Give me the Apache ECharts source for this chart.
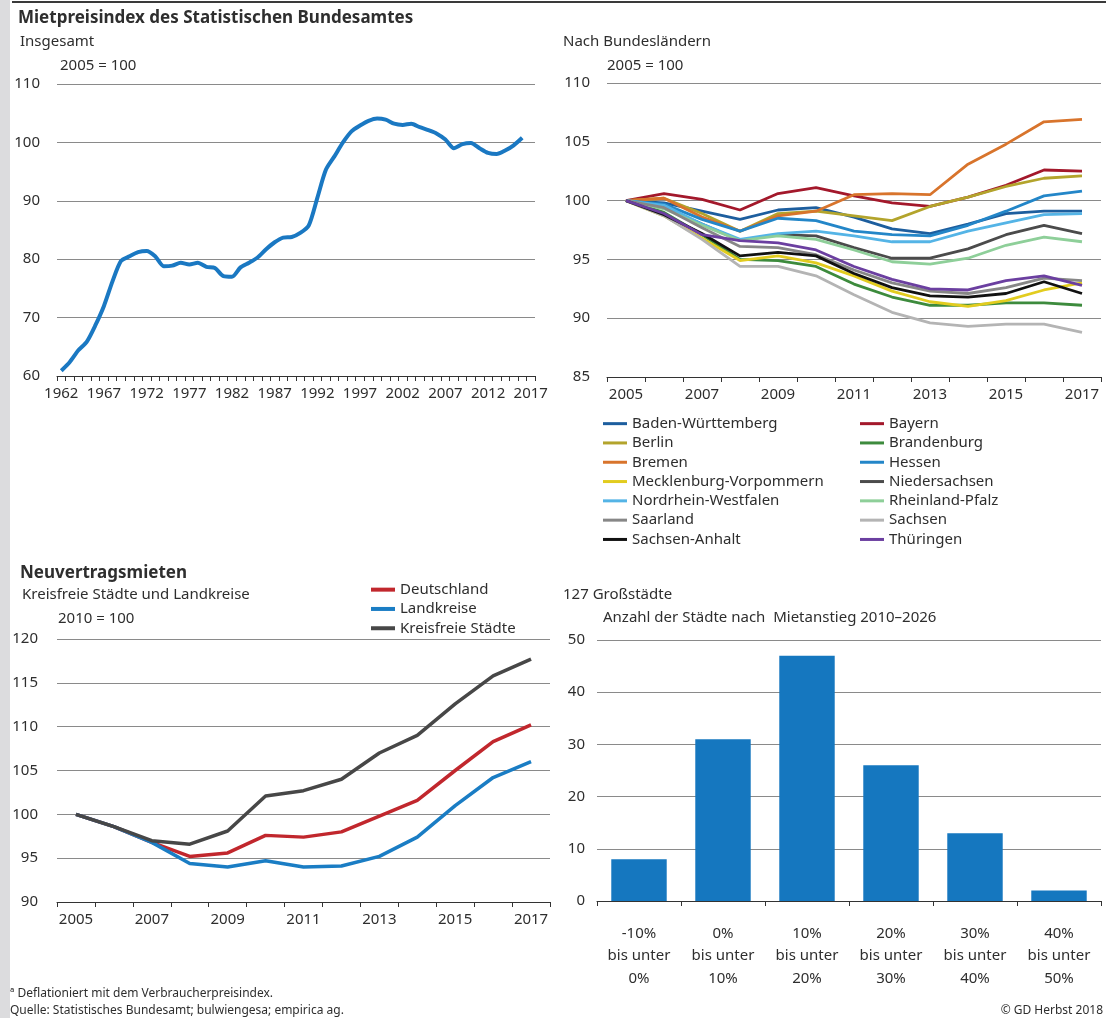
<!DOCTYPE html>
<html>
<head>
<meta charset="utf-8">
<script src="https://cdn.jsdelivr.net/npm/echarts@6/dist/echarts.min.js"></script>
<style>
  html, body { margin: 0; padding: 0; background: #fff; }
  #chart { width: 1106px; height: 1018px; }
</style>
</head>
<body>
<div id="chart"></div>
<script>
// ---- Mietpreisindex insgesamt, 2005 = 100 ----
const yearsLong = [];
for (let y = 1962; y <= 2017; y++) yearsLong.push(String(y));
const indexTotal = [
  60.9, 62.4, 64.4, 65.9, 68.7, 72.0, 76.2, 79.7, 80.5, 81.2,
  81.4, 80.5, 78.8, 78.9, 79.4, 79.1, 79.4, 78.7, 78.5, 77.1,
  77.0, 78.6, 79.4, 80.3, 81.7, 82.9, 83.7, 83.8, 84.5, 85.8,
  90.5, 95.3, 97.6, 100.0, 101.9, 102.9, 103.7, 104.1, 103.9, 103.2,
  103.0, 103.2, 102.6, 102.1, 101.5, 100.5, 99.0, 99.7, 99.9, 99.0,
  98.2, 98.0, 98.6, 99.5, 100.8, null
];

// ---- Nach Bundesländern, 2005 = 100 ----
const yearsShort = ['2005','2006','2007','2008','2009','2010','2011','2012','2013','2014','2015','2016','2017'];
const badenWuerttemberg = [100, 99.8, 99.1, 98.4, 99.2, 99.4, 98.6, 97.6, 97.2, 98.0, 98.9, 99.1, 99.1];
const bayern            = [100, 100.6, 100.1, 99.2, 100.6, 101.1, 100.4, 99.8, 99.5, 100.3, 101.3, 102.6, 102.5];
const berlin            = [100, 100.2, 98.9, 97.4, 98.9, 99.1, 98.7, 98.3, 99.5, 100.3, 101.2, 101.9, 102.1];
const brandenburg       = [100, 99.0, 97.1, 95.0, 94.9, 94.4, 92.9, 91.8, 91.1, 91.1, 91.3, 91.3, 91.1];
const bremen            = [100, 100.2, 98.6, 97.4, 98.7, 99.1, 100.5, 100.6, 100.5, 103.1, 104.8, 106.7, 106.9];
const hessen            = [100, 99.7, 98.4, 97.4, 98.5, 98.3, 97.4, 97.1, 97.0, 97.9, 99.1, 100.4, 100.8];
const mecklenburgVorp   = [100, 98.7, 96.8, 94.9, 95.3, 94.7, 93.6, 92.3, 91.4, 91.0, 91.5, 92.4, 93.0];
const niedersachsen     = [100, 99.4, 98.0, 96.6, 97.1, 97.0, 96.0, 95.1, 95.1, 95.9, 97.1, 97.9, 97.2];
const nordrheinWestf    = [100, 99.6, 98.0, 96.7, 97.2, 97.4, 97.0, 96.5, 96.5, 97.4, 98.1, 98.8, 98.9];
const rheinlandPfalz    = [100, 99.3, 97.9, 96.6, 97.0, 96.7, 95.8, 94.8, 94.6, 95.1, 96.2, 96.9, 96.5];
const saarland          = [100, 99.4, 97.7, 96.1, 96.0, 95.4, 94.1, 93.0, 92.3, 92.1, 92.6, 93.4, 93.2];
const sachsen           = [100, 98.7, 96.7, 94.4, 94.4, 93.6, 92.0, 90.5, 89.6, 89.3, 89.5, 89.5, 88.8];
const sachsenAnhalt     = [100, 98.8, 97.2, 95.3, 95.6, 95.3, 93.8, 92.6, 91.9, 91.8, 92.1, 93.1, 92.1];
const thueringen        = [100, 98.9, 97.1, 96.6, 96.4, 95.8, 94.4, 93.3, 92.5, 92.4, 93.2, 93.6, 92.8];

// ---- Neuvertragsmieten, 2010 = 100 ----
const deutschland       = [100, 98.6, 96.8, 95.2, 95.6, 97.6, 97.4, 98.0, 99.8, 101.6, 105.0, 108.3, 110.2];
const landkreise        = [100, 98.6, 96.8, 94.4, 94.0, 94.7, 94.0, 94.1, 95.2, 97.4, 101.0, 104.2, 106.0];
const kreisfreieStaedte = [100, 98.6, 97.0, 96.6, 98.1, 102.1, 102.7, 104.0, 107.0, 109.0, 112.6, 115.8, 117.7];

// ---- 127 Großstädte: Anzahl nach Mietanstieg ----
const classLabels = ['-10%\nbis unter\n0%', '0%\nbis unter\n10%', '10%\nbis unter\n20%',
                     '20%\nbis unter\n30%', '30%\nbis unter\n40%', '40%\nbis unter\n50%'];
const cityCounts = [8, 31, 47, 26, 13, 2];

const FONT = 'Noto Sans';
const TXT = '#2e2e2e';
const GRID = '#8a8a8a';

const states = [
  ['Baden-Württemberg', badenWuerttemberg, '#1d5e9e'],
  ['Bayern', bayern, '#a3182b'],
  ['Berlin', berlin, '#b3a42c'],
  ['Brandenburg', brandenburg, '#3d8b3d'],
  ['Bremen', bremen, '#d8742c'],
  ['Hessen', hessen, '#2386c8'],
  ['Mecklenburg-Vorpommern', mecklenburgVorp, '#e2cc1f'],
  ['Niedersachsen', niedersachsen, '#4b4b4b'],
  ['Nordrhein-Westfalen', nordrheinWestf, '#54b4e6'],
  ['Rheinland-Pfalz', rheinlandPfalz, '#8ecf99'],
  ['Saarland', saarland, '#878787'],
  ['Sachsen', sachsen, '#b4b4b4'],
  ['Sachsen-Anhalt', sachsenAnhalt, '#111111'],
  ['Thüringen', thueringen, '#6b3fa0']
];

function catAxis(gridIndex, data, labelInterval) {
  return {
    type: 'category', gridIndex, data, boundaryGap: true,
    axisLine: { lineStyle: { color: '#333', width: 1 } },
    axisTick: { show: true, interval: 0, inside: false, length: 5, lineStyle: { color: '#333' } },
    axisLabel: { interval: labelInterval, color: TXT, fontFamily: FONT, fontSize: 15, margin: 10 },
    splitLine: { show: false }
  };
}
function valAxis(gridIndex, min, max, interval, margin) {
  return {
    type: 'value', gridIndex, min, max, interval,
    axisLine: { show: false }, axisTick: { show: false },
    axisLabel: { color: TXT, fontFamily: FONT, fontSize: 15, margin },
    splitLine: { lineStyle: { color: GRID, width: 1 } }
  };
}
function text(x, y, t, font) {
  return {
    type: 'text', left: x, top: y,
    style: { text: t, fill: TXT, font: (font || '15px') + ' "' + FONT + '"' }
  };
}

const series = [];
series.push({
  type: 'line', xAxisIndex: 0, yAxisIndex: 0, data: indexTotal,
  showSymbol: false, smooth: 0.25, lineStyle: { color: '#1a78c2', width: 4 }
});
states.forEach(([name, data, color]) => {
  series.push({
    name, type: 'line', xAxisIndex: 1, yAxisIndex: 1, data,
    showSymbol: false, lineStyle: { color, width: 2.8 }, itemStyle: { color }
  });
});
[['Deutschland', deutschland, '#c1272d'],
 ['Landkreise', landkreise, '#1a7dc4'],
 ['Kreisfreie Städte', kreisfreieStaedte, '#474747']].forEach(([name, data, color]) => {
  series.push({
    name, type: 'line', xAxisIndex: 2, yAxisIndex: 2, data,
    showSymbol: false, lineStyle: { color, width: 3.5 }, itemStyle: { color }
  });
});
series.push({
  type: 'bar', xAxisIndex: 3, yAxisIndex: 3, data: cityCounts,
  barCategoryGap: '34%', itemStyle: { color: '#1577bf' }
});

const legendText = { color: TXT, fontFamily: FONT, fontSize: 15, lineHeight: 19.3 };
const colLeft = states.filter((s, i) => i % 2 === 0).map(s => s[0]);
const colRight = states.filter((s, i) => i % 2 === 1).map(s => s[0]);
const legendBase = { orient: 'vertical', padding: 0, itemGap: 0, icon: 'rect', textStyle: legendText, selectedMode: false };

const option = {
  animation: false,
  backgroundColor: '#ffffff',
  grid: [
    { left: 57, top: 84, width: 478, height: 292 },
    { left: 607, top: 83, width: 494, height: 294 },
    { left: 57, top: 639, width: 493, height: 263 },
    { left: 597, top: 640, width: 504, height: 261 }
  ],
  xAxis: [
    catAxis(0, yearsLong, 4),
    catAxis(1, yearsShort, 1),
    catAxis(2, yearsShort, 1),
    Object.assign(catAxis(3, classLabels, 0), {
      axisLabel: { interval: 0, color: TXT, fontFamily: FONT, fontSize: 15, lineHeight: 22.5, margin: 21 }
    })
  ],
  yAxis: [
    valAxis(0, 60, 110, 10, 17),
    valAxis(1, 85, 110, 5, 17),
    valAxis(2, 90, 120, 5, 19),
    valAxis(3, 0, 50, 10, 12)
  ],
  legend: [
    Object.assign({ data: colLeft, left: 603, top: 414, itemWidth: 24, itemHeight: 3 }, legendBase),
    Object.assign({ data: colRight, left: 860, top: 414, itemWidth: 24, itemHeight: 3 }, legendBase),
    Object.assign({ data: ['Deutschland', 'Landkreise', 'Kreisfreie Städte'], left: 371, top: 580,
      itemWidth: 24, itemHeight: 4 }, legendBase)
  ],
  series,
  graphic: [
    { type: 'rect', left: 0, top: 0, shape: { width: 10, height: 1018 }, style: { fill: '#dcdcde' } },
    { type: 'rect', left: 12, top: 1, shape: { width: 1094, height: 2 }, style: { fill: '#3a3a3a' } },
    text(18, 10, 'Mietpreisindex des Statistischen Bundesamtes', 'bold 17px'),
    text(20, 34, 'Insgesamt'),
    text(60, 58, '2005 = 100'),
    text(563, 34, 'Nach Bundesländern'),
    text(607, 58, '2005 = 100'),
    text(20, 565, 'Neuvertragsmieten', 'bold 17px'),
    text(22, 587, 'Kreisfreie Städte und Landkreise'),
    text(58, 611, '2010 = 100'),
    text(563, 587, '127 Großstädte'),
    text(603, 610, 'Anzahl der Städte nach  Mietanstieg 2010–2026'),
    text(10, 988, 'ª Deflationiert mit dem Verbraucherpreisindex.', '12px'),
    text(10, 1005, 'Quelle: Statistisches Bundesamt; bulwiengesa; empirica ag.', '12px'),
    { type: 'text', right: 3, top: 1005, style: { text: '© GD Herbst 2018', fill: TXT, font: '12px "' + FONT + '"' } }
  ]
};

const chart = echarts.init(document.getElementById('chart'), null, { renderer: 'canvas' });
chart.setOption(option);
</script>
</body>
</html>
